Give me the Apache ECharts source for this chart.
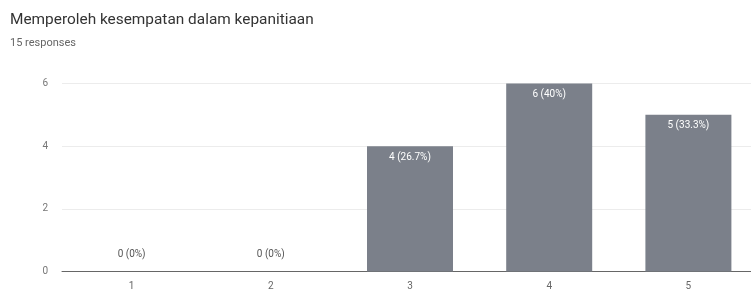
<!DOCTYPE html>
<html><head><meta charset="utf-8">
<script src="https://cdn.jsdelivr.net/npm/echarts@6/dist/echarts.min.js"></script>
<style>html,body{margin:0;padding:0;background:#fff;overflow:hidden}#c{width:758px;height:293px}</style>
</head><body><div id="c"></div>
<script>
const titleText = "Memperoleh kesempatan dalam kepanitiaan";
const subtitleText = "15 responses";
const categories = ["1", "2", "3", "4", "5"];
const counts = [0, 0, 4, 6, 5];
const percents = ["0%", "0%", "26.7%", "40%", "33.3%"];
const yTicks = [0, 2, 4, 6];

const chart = echarts.init(document.getElementById('c'));
chart.setOption({
  animation: false,
  title: {
    text: titleText, subtext: subtitleText, left: 5, top: 8, itemGap: 10,
    textStyle: {fontFamily: 'Roboto', fontSize: 15.4, fontWeight: 'normal', color: '#333'},
    subtextStyle: {fontFamily: 'Roboto', fontSize: 11, color: '#666'}
  },
  grid: {left: 62, top: 83.5, right: 0, height: 188, containLabel: false},
  xAxis: {
    type: 'category', data: categories,
    axisLine: {lineStyle: {color: '#666', width: 1}},
    axisTick: {show: false},
    axisLabel: {color: '#666', fontFamily: 'Roboto', fontSize: 10, margin: 10}
  },
  yAxis: {
    type: 'value', min: yTicks[0], max: yTicks[yTicks.length - 1], interval: 2,
    axisLine: {show: false}, axisTick: {show: false},
    splitLine: {lineStyle: {color: '#ececec'}},
    axisLabel: {color: '#777', fontFamily: 'Roboto', fontSize: 10, margin: 14}
  },
  series: [{
    type: 'bar', data: counts.map((v, i) => ({
      value: v,
      label: v === 0 ? {position: 'top', distance: 12, color: '#555'} : {position: 'insideTop', distance: 6, color: '#fff'}
    })),
    barWidth: 86,
    itemStyle: {color: '#7b808a'},
    label: {
      show: true, fontFamily: 'Roboto', fontSize: 10,
      formatter: p => counts[p.dataIndex] + ' (' + percents[p.dataIndex] + ')'
    }
  }]
});
</script></body></html>
